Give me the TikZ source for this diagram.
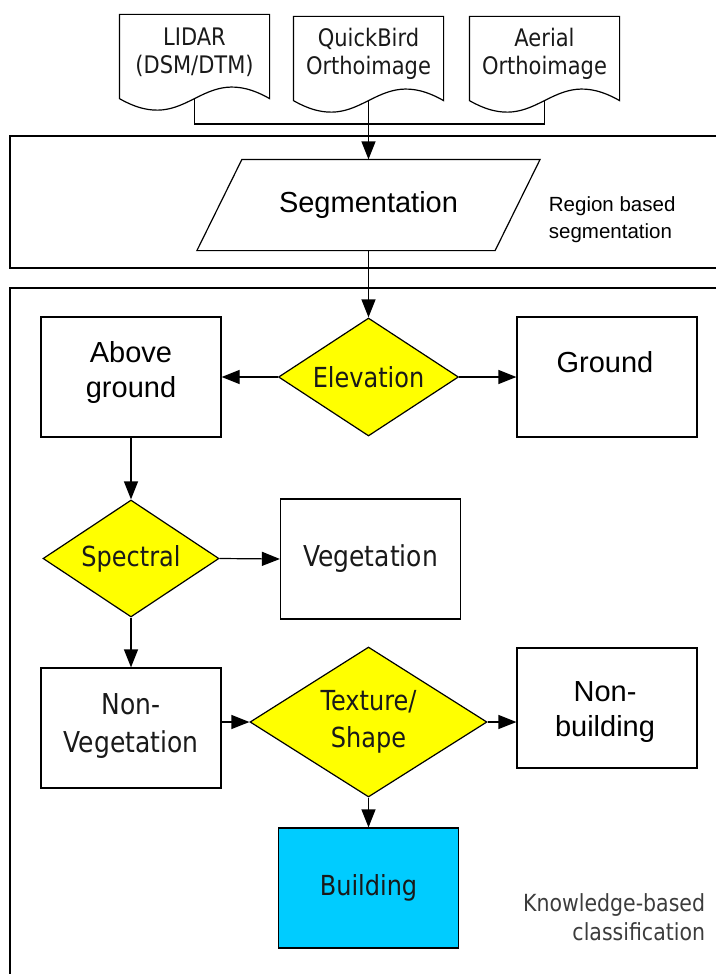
\documentclass[tikz,border=0pt]{standalone}
\usepackage{fontspec}
\usepackage{graphicx}
\setmainfont{Liberation Sans}
\newfontfamily\tah{DejaVu Sans}
\usetikzlibrary{shapes.geometric, arrows.meta, calc}
\definecolor{dyellow}{RGB}{255,255,0}
\definecolor{bcyan}{RGB}{0,204,255}
\definecolor{kgray}{RGB}{60,60,60}
\definecolor{tblack}{RGB}{25,25,25}
\newcommand\vs[1]{\scalebox{1}[1.15]{#1}}
\newcommand\docpath[1]{%
  \draw ($(#1.south west)+(0,9)$) -- (#1.north west) -- (#1.north east) --
    ($(#1.south east)+(0,9)$) .. controls ($(#1.south)+(5,-31)$) and ($(#1.south)+(-5,49)$) ..
    ($(#1.south west)+(0,9)$) -- cycle;}
\begin{document}
\begin{tikzpicture}[x=1pt,y=-1pt,line width=1.2pt,
  arr/.style={-{Triangle[length=18pt,width=14pt]}},
  rbox/.style={draw, rectangle, inner sep=0pt, minimum width=180pt, minimum height=120pt},
  dia/.style={draw, diamond, fill=dyellow, inner sep=0pt, align=center, text=tblack,
    font=\tah\fontsize{24}{37}\selectfont},
  atext/.style={font=\fontsize{29}{35}\selectfont, align=center},
  ttext/.style={font=\tah\fontsize{24}{37}\selectfont, align=center, text=tblack},
  doctext/.style={font=\tah\fontsize{21}{28}\selectfont, align=center, inner sep=0pt,
    minimum width=149pt, minimum height=74pt, text=tblack}]
\useasboundingbox (0,0) rectangle (716,974);

% frames
\draw (716,136) -- (10,136) -- (10,268) -- (716,268);
\draw (716,288) -- (10,288) -- (10,974);

% documents
\node[doctext] (lidar) at (194.5,52) {\vs{LIDAR}\\\vs{(DSM/DTM)}};
\node[doctext] (qb) at (368.5,54) {\vs{QuickBird}\\\vs{Orthoimage}};
\node[doctext] (aer) at (544.5,54) {\vs{Aerial}\\\vs{Orthoimage}};
\docpath{lidar}
\docpath{qb}
\docpath{aer}
\coordinate (lidarb) at ($(lidar.south)+(0,9)$);
\coordinate (qbb) at ($(qb.south)+(0,9)$);
\coordinate (aerb) at ($(aer.south)+(0,9)$);
\coordinate (bus) at (0,124);
\draw (lidarb) -- (lidarb |- bus) -- (aerb |- bus) -- (aerb);

% segmentation
\node[atext, inner sep=0pt, minimum width=297pt, minimum height=90pt] (seg) at (368.5,205) {Segmentation};
\draw ([xshift=22.5pt]seg.north west) -- ([xshift=22.5pt]seg.north east) --
  ([xshift=-22.5pt]seg.south east) -- ([xshift=-22.5pt]seg.south west) -- cycle;
\draw[arr] (qbb) -- (seg.north);
\node[anchor=west, align=left, font=\fontsize{20.5}{27}\selectfont] (regl) at (545,220) {Region based\\segmentation};

% classification
\node[dia, minimum width=180pt, minimum height=118pt, aspect=1.5] (elev) at (368.5,377) {\vs{Elevation}};
\node[rbox] (ag) at (131,377) {};
\node[atext] (agt) at (131,372) {Above\\ground};
\node[rbox] (gr) at (607,377) {};
\node[atext] (grt) at (605,362) {Ground};

\node[dia, minimum width=176pt, minimum height=117pt, aspect=1.5] (spec) at (131,558.5) {\vs{Spectral}};
\node[rbox, ttext, font=\tah\fontsize{25}{37}\selectfont] (veg) at (370.5,559) {\vs{Vegetation}};

\node[rbox] (nv) at (131,728) {};
\node[ttext, font=\tah\fontsize{25}{38}\selectfont] (nvt) at (131,726) {\vs{Non-}\\\vs{Vegetation}};
\node[dia, minimum width=237pt, minimum height=150pt, aspect=1.58] (tex) at (368.5,722) {\vs{Texture/}\\\vs{Shape}};
\node[rbox] (nb) at (607,708) {};
\node[atext] (nbt) at (605,712) {Non-\\building};

\node[rbox, ttext, fill=bcyan] (bld) at (368.5,888) {\vs{Building}};
\node[anchor=east, align=right, text=kgray, font=\tah\fontsize{20.5}{29}\selectfont] (kbl) at (709,917) {\vs{Knowledge-based}\\\vs{classification}};

% arrows
\draw[arr] (seg.south) -- (elev.north);
\draw[arr] (elev.west) -- (ag.east);
\draw[arr] (elev.east) -- (gr.west);
\draw[arr] (ag.south) -- (spec.north);
\draw[arr] (spec.east) -- (veg.west);
\draw[arr] (spec.south) -- (nv.north);
\draw[arr] (nv.east |- tex.west) -- (tex.west);
\draw[arr] (tex.east) -- (tex.east -| nb.west);
\draw[arr] (tex.south) -- (bld.north);
\end{tikzpicture}
\end{document}
